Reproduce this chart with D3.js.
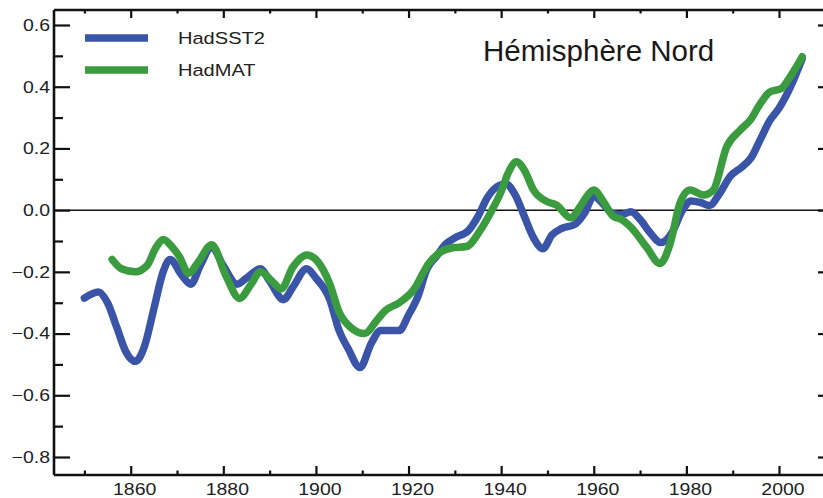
<!DOCTYPE html>
<html>
<head>
<meta charset="utf-8">
<script src="https://cdn.jsdelivr.net/npm/d3@7"></script>
<style>
  html, body { margin: 0; padding: 0; background: #fff; }
  svg { display: block; font-family: "Liberation Sans", Arial, Helvetica, sans-serif; }
</style>
</head>
<body>
<svg id="chart" width="823" height="498"></svg>
<script>
// ---- data ----
const sstYears = [1850,1853,1855,1857,1859,1861,1863,1865,1867,1868.5,1871,1873,1875,1877.5,1880,1883,1885,1888,1890,1893,1895,1898,1900,1903,1905,1907,1909.5,1912,1914,1916,1918,1920,1922,1924,1926,1928,1930,1933,1935,1937,1939,1941,1943,1945,1947,1949,1951,1953,1956,1958,1960,1962,1964,1966,1968,1970,1972,1974.5,1977,1979,1981,1983,1985,1987,1989.5,1992,1994,1996,1998,2000,2002.5,2005];
const sstValues = [-0.285,-0.265,-0.30,-0.38,-0.46,-0.49,-0.44,-0.32,-0.20,-0.16,-0.21,-0.24,-0.18,-0.12,-0.18,-0.24,-0.22,-0.19,-0.23,-0.29,-0.25,-0.19,-0.22,-0.29,-0.39,-0.45,-0.51,-0.43,-0.39,-0.39,-0.39,-0.34,-0.28,-0.19,-0.15,-0.11,-0.09,-0.065,-0.02,0.04,0.075,0.085,0.05,-0.02,-0.09,-0.125,-0.08,-0.06,-0.045,-0.01,0.045,0.02,-0.01,-0.015,-0.005,-0.03,-0.07,-0.105,-0.07,-0.005,0.03,0.025,0.015,0.05,0.11,0.14,0.17,0.23,0.29,0.33,0.40,0.49];

const matYears = [1856,1858,1861,1863.5,1865.5,1867,1869,1870.5,1872.5,1874.5,1877.5,1880.5,1883.5,1886,1888,1890.5,1892.5,1895,1898,1900,1903,1905,1907.5,1910.5,1913,1915,1918,1921,1924.5,1927,1929.5,1932.5,1935.5,1938,1940,1941.5,1943.3,1945,1947,1950,1952,1955,1957,1958.5,1960,1962,1964.2,1966,1968,1971.4,1974.3,1976.5,1978.6,1980.8,1983.7,1985.8,1988.7,1991.6,1993.8,1996,1998,2000.5,2002.4,2005];
const matValues = [-0.16,-0.19,-0.20,-0.18,-0.12,-0.095,-0.12,-0.15,-0.205,-0.17,-0.112,-0.21,-0.286,-0.24,-0.20,-0.23,-0.255,-0.185,-0.145,-0.16,-0.24,-0.33,-0.38,-0.40,-0.36,-0.325,-0.30,-0.26,-0.17,-0.135,-0.122,-0.118,-0.065,0.0,0.06,0.12,0.157,0.13,0.065,0.027,0.016,-0.025,0.01,0.045,0.065,0.03,-0.02,-0.03,-0.055,-0.12,-0.173,-0.108,0.022,0.065,0.049,0.065,0.205,0.259,0.292,0.346,0.383,0.394,0.432,0.497];

const seriesNames = ["HadSST2", "HadMAT"];
const xTickValues = [1860,1880,1900,1920,1940,1960,1980,2000];
const xMinorTicks = [1850,1870,1890,1910,1930,1950,1970,1990,2010];
const yTickValues = [-0.8,-0.6,-0.4,-0.2,0.0,0.2,0.4,0.6];
const yTickLabels = ["\u22120.8","\u22120.6","\u22120.4","\u22120.2","0.0","0.2","0.4","0.6"];
const yMinorTicks = [-0.7,-0.5,-0.3,-0.1,0.1,0.3,0.5];
const titleText = "Hémisphère Nord";

// ---- layout ----
const svg = d3.select("#chart");
const pLeft = 54, pRight = 834, pTop = 10, pBottom = 475;
const x = d3.scaleLinear().domain([1860, 2000]).range([130.7, 779]);
const y = d3.scaleLinear().domain([-0.8, 0.6]).range([457, 25]);
const blue = "#3a55a7", green = "#3b9c3f";
const stretch = 1.18;

// zero line
svg.append("line")
  .attr("x1", pLeft).attr("x2", 823).attr("y1", y(0)).attr("y2", y(0))
  .attr("stroke", "#111").attr("stroke-width", 1.5);

// series
const line = d3.line().x(d => x(d[0])).y(d => y(d[1])).curve(d3.curveMonotoneX);
const sst = sstYears.map((yr, i) => [yr, sstValues[i]]);
const mat = matYears.map((yr, i) => [yr, matValues[i]]);
[[sst, blue], [mat, green]].forEach(([data, col]) => {
  svg.append("path").datum(data).attr("d", line)
    .attr("fill", "none").attr("stroke", col).attr("stroke-width", 7.5)
    .attr("stroke-linecap", "round").attr("stroke-linejoin", "round");
});

function styleAxis(g) {
  g.select(".domain").attr("stroke", "#111").attr("stroke-width", 2.6);
  g.selectAll(".tick line").attr("stroke", "#111").attr("stroke-width", 2.2);
}

// left axis: minor then major
svg.append("g").attr("transform", `translate(${pLeft},0)`)
  .call(d3.axisLeft(y).tickValues(yMinorTicks).tickSizeInner(-9).tickSizeOuter(0).tickFormat(""))
  .call(g => { g.select(".domain").remove(); g.selectAll(".tick line").attr("stroke", "#111").attr("stroke-width", 2.2); });
const yAx = svg.append("g").attr("transform", `translate(${pLeft},0)`)
  .call(d3.axisLeft(y).tickValues(yTickValues).tickSizeInner(-16).tickSizeOuter(0).tickPadding(3.4)
    .tickFormat((d, i) => yTickLabels[i]));
yAx.select(".domain").attr("d", `M0,${pTop}V${pBottom}`);
styleAxis(yAx);
yAx.selectAll(".tick text").attr("font-size", 16.5).attr("fill", "#222")
  .attr("font-family", "'Liberation Sans', Arial, sans-serif")
  .attr("transform", `scale(${stretch},1)`);

// right axis (line itself just off the picture)
svg.append("g").attr("transform", `translate(${pRight},0)`)
  .call(d3.axisRight(y).tickValues(yTickValues).tickSizeInner(-16).tickSizeOuter(0).tickFormat(""))
  .call(styleAxis);

// bottom axis
svg.append("g").attr("transform", `translate(0,${pBottom})`)
  .call(d3.axisBottom(x).tickValues(xMinorTicks).tickSizeInner(-4.5).tickSizeOuter(0).tickFormat(""))
  .call(g => { g.select(".domain").remove(); g.selectAll(".tick line").attr("stroke", "#111").attr("stroke-width", 2.2); });
const xAx = svg.append("g").attr("transform", `translate(0,${pBottom})`)
  .call(d3.axisBottom(x).tickValues(xTickValues).tickSizeInner(-9).tickSizeOuter(0).tickPadding(8)
    .tickFormat(d3.format("d")));
xAx.select(".domain").attr("d", `M${pLeft},0H${pRight}`);
styleAxis(xAx);
xAx.selectAll(".tick text").attr("font-size", 16.5).attr("fill", "#222")
  .attr("transform", `translate(3.5,0) scale(${stretch},1)`);

// top axis
svg.append("g").attr("transform", `translate(0,${pTop})`)
  .call(d3.axisTop(x).tickValues(xMinorTicks).tickSizeInner(-3.5).tickSizeOuter(0).tickFormat(""))
  .call(g => { g.select(".domain").remove(); g.selectAll(".tick line").attr("stroke", "#111").attr("stroke-width", 2.2); });
const tAx = svg.append("g").attr("transform", `translate(0,${pTop})`)
  .call(d3.axisTop(x).tickValues(xTickValues).tickSizeInner(-8).tickSizeOuter(0).tickFormat(""));
tAx.select(".domain").attr("d", `M${pLeft},0H${pRight}`);
styleAxis(tAx);

// legend
const legend = svg.append("g");
[[seriesNames[0], blue, 38], [seriesNames[1], green, 70]].forEach(([name, col, ly]) => {
  legend.append("line").attr("x1", 85).attr("x2", 148).attr("y1", ly).attr("y2", ly)
    .attr("stroke", col).attr("stroke-width", 7.5);
  legend.append("text")
    .attr("transform", `translate(178,${ly + 6.2}) scale(${stretch},1)`)
    .attr("font-size", 17).attr("fill", "#222").text(name);
});

// title
svg.append("text").attr("x", 483).attr("y", 61)
  .attr("font-size", 29.5).attr("fill", "#1a1a1a").text(titleText);
</script>
</body>
</html>
